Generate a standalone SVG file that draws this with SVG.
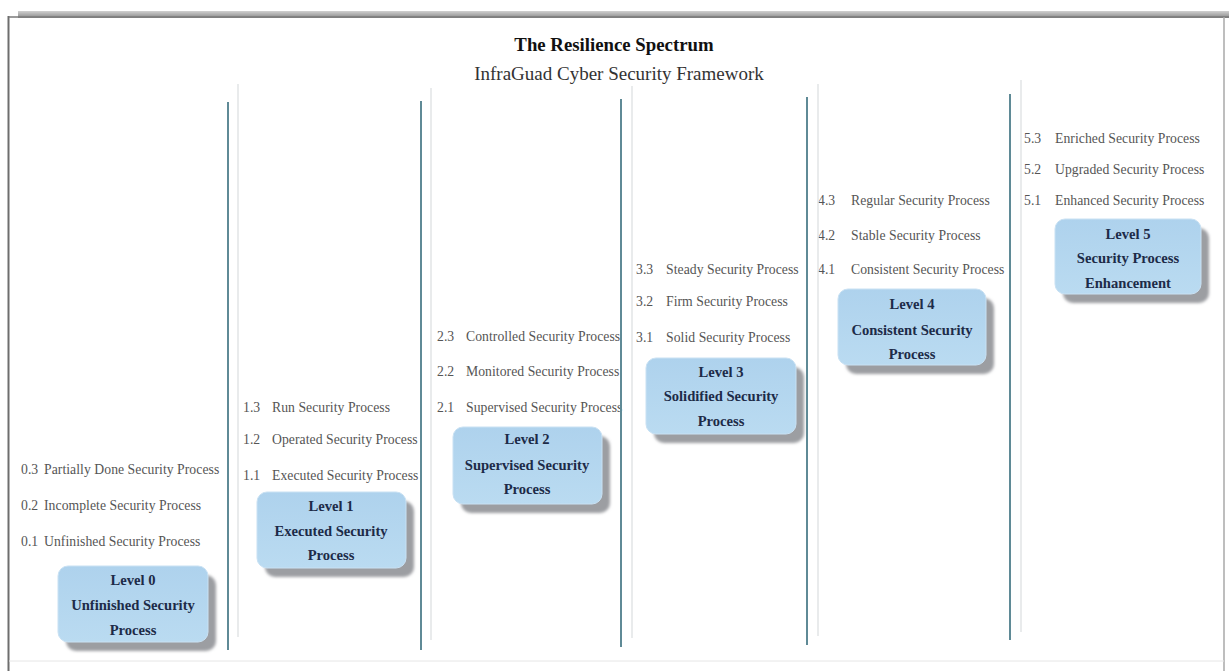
<svg xmlns="http://www.w3.org/2000/svg" width="1229" height="671" viewBox="0 0 1229 671">
  <defs>
    <linearGradient id="topBar" x1="0" y1="0" x2="0" y2="1">
      <stop offset="0" stop-color="#d0d0d0"/>
      <stop offset="1" stop-color="#8a8a8a"/>
    </linearGradient>
    <linearGradient id="boxFill" x1="0" y1="0" x2="0" y2="1">
      <stop offset="0" stop-color="#aed2ed"/>
      <stop offset="1" stop-color="#badbf1"/>
    </linearGradient>
    <filter id="soft" x="-10%" y="-10%" width="130%" height="130%">
      <feGaussianBlur stdDeviation="1.5"/>
    </filter>
  </defs>
  <style>
    .title { font-family: "Liberation Serif", serif; font-weight: bold; font-size: 18.8px; fill: #111; text-anchor: middle; }
    .subtitle { font-family: "Liberation Serif", serif; font-size: 19px; fill: #333; text-anchor: middle; }
    .item { font-family: "Liberation Serif", serif; font-size: 13.7px; letter-spacing: 0.05px; fill: #555555; }
    .lvl { font-family: "Liberation Serif", serif; font-weight: bold; font-size: 14.6px; fill: #1d2b48; text-anchor: middle; }
    .shadow { fill: #9c9ea2; filter: url(#soft); }
    .box { fill: url(#boxFill); stroke: #c9e1f3; stroke-width: 1; }
    .sep { stroke: #5f8a96; stroke-width: 2; }
    .sepFaint { stroke: #e2e4e6; stroke-width: 1.5; }
  </style>

  <!-- page frame -->
  <rect x="0" y="0" width="1229" height="671" fill="#ffffff"/>
  <rect x="18" y="11" width="1211" height="7" fill="url(#topBar)"/>
  <line x1="8.5" y1="16" x2="8.5" y2="671" stroke="#6e6e6e" stroke-width="2"/>
  <line x1="9" y1="17" x2="1229" y2="17" stroke="#7a7a7a" stroke-width="1.5"/>
  <line x1="1224" y1="17" x2="1224" y2="671" stroke="#a8a8a8" stroke-width="1.5"/>
  <line x1="9" y1="661" x2="1224" y2="661" stroke="#e6e6e6" stroke-width="1"/>

  <!-- heading -->
  <text class="title" x="614" y="51">The Resilience Spectrum</text>
  <text class="subtitle" x="619" y="80">InfraGuad Cyber Security Framework</text>

  <!-- level items (drawn first so the separators sit on top) -->
  <g id="items0">
    <text class="item" x="21" y="474">0.3</text><text class="item" x="44" y="474">Partially Done Security Process</text>
    <text class="item" x="21" y="510">0.2</text><text class="item" x="44" y="510">Incomplete Security Process</text>
    <text class="item" x="21" y="546">0.1</text><text class="item" x="44" y="546">Unfinished Security Process</text>
  </g>
  <g id="items1">
    <text class="item" x="243" y="412">1.3</text><text class="item" x="272" y="412">Run Security Process</text>
    <text class="item" x="243" y="444">1.2</text><text class="item" x="272" y="444">Operated Security Process</text>
    <text class="item" x="243" y="480">1.1</text><text class="item" x="272" y="480">Executed Security Process</text>
  </g>
  <g id="items2">
    <text class="item" x="437" y="341">2.3</text><text class="item" x="466" y="341">Controlled Security Process</text>
    <text class="item" x="437" y="376">2.2</text><text class="item" x="466" y="376">Monitored Security Process</text>
    <text class="item" x="437" y="412">2.1</text><text class="item" x="466" y="412">Supervised Security Process</text>
  </g>
  <g id="items3">
    <text class="item" x="636" y="274">3.3</text><text class="item" x="666" y="274">Steady Security Process</text>
    <text class="item" x="636" y="306">3.2</text><text class="item" x="666" y="306">Firm Security Process</text>
    <text class="item" x="636" y="342">3.1</text><text class="item" x="666" y="342">Solid Security Process</text>
  </g>
  <g id="items4">
    <text class="item" x="818" y="205">4.3</text><text class="item" x="851" y="205">Regular Security Process</text>
    <text class="item" x="818" y="240">4.2</text><text class="item" x="851" y="240">Stable Security Process</text>
    <text class="item" x="818" y="274">4.1</text><text class="item" x="851" y="274">Consistent Security Process</text>
  </g>
  <g id="items5">
    <text class="item" x="1024" y="143">5.3</text><text class="item" x="1055" y="143">Enriched Security Process</text>
    <text class="item" x="1024" y="174">5.2</text><text class="item" x="1055" y="174">Upgraded Security Process</text>
    <text class="item" x="1024" y="205">5.1</text><text class="item" x="1055" y="205">Enhanced Security Process</text>
  </g>

  <!-- column separators -->
  <g id="separators">
    <line class="sepFaint" x1="238" y1="84" x2="238" y2="637"/>
    <line class="sep" x1="228" y1="102" x2="228" y2="650"/>
    <line class="sepFaint" x1="431" y1="88" x2="431" y2="640"/>
    <line class="sep" x1="421" y1="101" x2="421" y2="650"/>
    <line class="sepFaint" x1="632" y1="86" x2="632" y2="638"/>
    <line class="sep" x1="621" y1="99" x2="621" y2="647"/>
    <line class="sepFaint" x1="818" y1="84" x2="818" y2="636"/>
    <line class="sep" x1="807" y1="97" x2="807" y2="645"/>
    <line class="sepFaint" x1="1021" y1="80" x2="1021" y2="632"/>
    <line class="sep" x1="1010" y1="94" x2="1010" y2="640"/>
  </g>

  <!-- Level boxes -->
  <g id="level0">
    <rect class="shadow" x="66" y="575" width="150" height="76" rx="10"/>
    <rect class="box" x="58" y="566" width="150" height="76" rx="10"/>
    <text class="lvl" x="133" y="585">Level 0</text>
    <text class="lvl" x="133" y="610">Unfinished Security</text>
    <text class="lvl" x="133" y="635">Process</text>
  </g>

  <g id="level1">
    <rect class="shadow" x="265" y="501" width="149" height="76" rx="10"/>
    <rect class="box" x="257" y="492" width="149" height="76" rx="10"/>
    <text class="lvl" x="331" y="511">Level 1</text>
    <text class="lvl" x="331" y="536">Executed Security</text>
    <text class="lvl" x="331" y="560">Process</text>
  </g>

  <g id="level2">
    <rect class="shadow" x="461" y="436" width="149" height="77" rx="10"/>
    <rect class="box" x="453" y="427" width="149" height="77" rx="10"/>
    <text class="lvl" x="527" y="444">Level 2</text>
    <text class="lvl" x="527" y="470">Supervised Security</text>
    <text class="lvl" x="527" y="494">Process</text>
  </g>

  <g id="level3">
    <rect class="shadow" x="654" y="367" width="150" height="76" rx="10"/>
    <rect class="box" x="646" y="358" width="150" height="76" rx="10"/>
    <text class="lvl" x="721" y="377">Level 3</text>
    <text class="lvl" x="721" y="401">Solidified Security</text>
    <text class="lvl" x="721" y="426">Process</text>
  </g>

  <g id="level4">
    <rect class="shadow" x="846" y="298" width="148" height="76" rx="10"/>
    <rect class="box" x="838" y="289" width="148" height="76" rx="10"/>
    <text class="lvl" x="912" y="309">Level 4</text>
    <text class="lvl" x="912" y="335">Consistent Security</text>
    <text class="lvl" x="912" y="359">Process</text>
  </g>

  <g id="level5">
    <rect class="shadow" x="1063" y="228" width="146" height="75" rx="10"/>
    <rect class="box" x="1055" y="219" width="146" height="75" rx="10"/>
    <text class="lvl" x="1128" y="239">Level 5</text>
    <text class="lvl" x="1128" y="263">Security Process</text>
    <text class="lvl" x="1128" y="288">Enhancement</text>
  </g>
</svg>
